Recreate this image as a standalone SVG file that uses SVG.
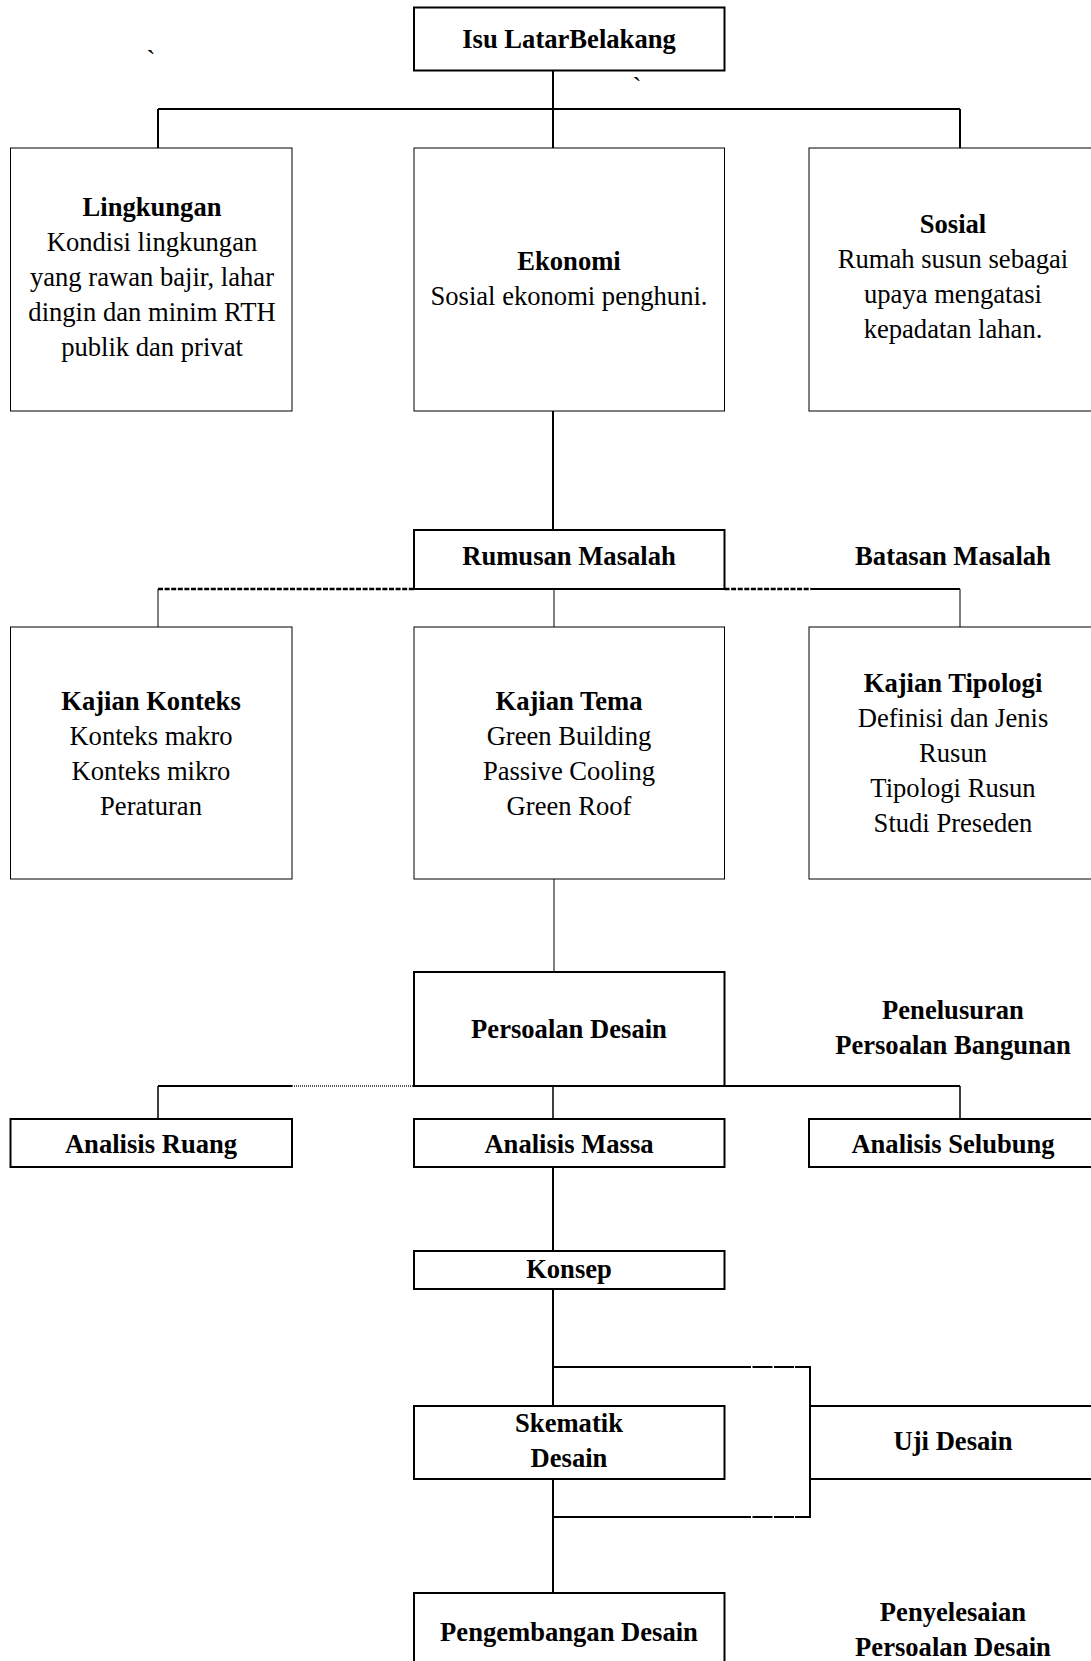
<svg xmlns="http://www.w3.org/2000/svg" width="1091" height="1661" viewBox="0 0 1091 1661">
  <style>
    .t { font-family: "Liberation Serif", "Times New Roman", serif; font-size: 26.6px; fill: #000; text-anchor: middle; }
    .b { font-weight: bold; }
    .box { fill: #fff; stroke: #000; stroke-width: 1; }
    .box2 { fill: #fff; stroke: #000; stroke-width: 2; }
    .ln { fill: none; stroke: #000; stroke-width: 2; }
    .thin { fill: none; stroke: #000; stroke-width: 1; }
    .mid { fill: none; stroke: #000; stroke-width: 1.5; }
    .dash { fill: none; stroke: #000; stroke-width: 2.5; stroke-dasharray: 5 1.6; }
    .dot { fill: none; stroke: #555; stroke-width: 2; stroke-dasharray: 1 1; }
    .gapdash { fill: none; stroke: #000; stroke-width: 2; stroke-dasharray: 20 1.5; }
  </style>
  <rect width="1091" height="1661" fill="#fff"/>

  <!-- stray grave accents -->
  <text class="t" x="151" y="69">`</text>
  <text class="t" x="637" y="96">`</text>

  <!-- connectors -->
  <g id="connectors">
    <!-- issue to three aspects -->
    <path class="ln" d="M553 70.5 V148 M158 109 H960 M158 109 V148 M960 109 V148"/>
    <!-- economy to problem statement -->
    <path class="ln" d="M553 411 V530"/>
    <!-- problem statement bus -->
    <path class="dash" d="M158 589 H414 M724.5 589 H811"/>
    <path class="ln" d="M811 589 H960"/>
    <path class="thin" d="M158 589 V627 M554 589 V627 M960 589 V627"/>
    <!-- theme study to design issue -->
    <path class="thin" d="M554 879 V972"/>
    <!-- design issue bus -->
    <path class="ln" d="M158 1086 H292 M724.5 1086 H960"/>
    <path class="dot" d="M292 1086 H414"/>
    <path class="mid" d="M158 1086 V1119 M553 1086 V1119 M960 1086 V1119"/>
    <!-- mass analysis down to development -->
    <path class="ln" d="M553 1167 V1251 M553 1289 V1406 M553 1479 V1593"/>
    <!-- test loop -->
    <path class="ln" d="M553 1367 H731 M795 1367 H810 V1517 H795 M731 1517 H553"/>
    <path class="gapdash" d="M731 1367 H795 M731 1517 H795"/>
  </g>

  <g id="isu">
    <rect class="box2" x="414" y="7.5" width="310.5" height="63"/>
    <text class="t b" x="569" y="48">Isu LatarBelakang</text>
  </g>

  <g id="lingkungan">
    <rect class="box" x="10.5" y="148" width="281.5" height="263"/>
    <text class="t b" x="152" y="216">Lingkungan</text>
    <text class="t" x="152" y="251">Kondisi lingkungan</text>
    <text class="t" x="152" y="286">yang rawan bajir, lahar</text>
    <text class="t" x="152" y="321">dingin dan minim RTH</text>
    <text class="t" x="152" y="356">publik dan privat</text>
  </g>

  <g id="ekonomi">
    <rect class="box" x="414" y="148" width="310.5" height="263"/>
    <text class="t b" x="569" y="270">Ekonomi</text>
    <text class="t" x="569" y="305">Sosial ekonomi penghuni.</text>
  </g>

  <g id="sosial">
    <rect class="box" x="809" y="148" width="290" height="263"/>
    <text class="t b" x="953" y="233">Sosial</text>
    <text class="t" x="953" y="268">Rumah susun sebagai</text>
    <text class="t" x="953" y="303">upaya mengatasi</text>
    <text class="t" x="953" y="338">kepadatan lahan.</text>
  </g>

  <g id="rumusan">
    <rect class="box2" x="414" y="530" width="310.5" height="59"/>
    <text class="t b" x="569" y="565">Rumusan Masalah</text>
  </g>

  <g id="batasan">
    <text class="t b" x="953" y="565">Batasan Masalah</text>
  </g>

  <g id="konteks">
    <rect class="box" x="10.5" y="627" width="281.5" height="252"/>
    <text class="t b" x="151" y="709.5">Kajian Konteks</text>
    <text class="t" x="151" y="744.5">Konteks makro</text>
    <text class="t" x="151" y="779.5">Konteks mikro</text>
    <text class="t" x="151" y="814.5">Peraturan</text>
  </g>

  <g id="tema">
    <rect class="box" x="414" y="627" width="310.5" height="252"/>
    <text class="t b" x="569" y="709.5">Kajian Tema</text>
    <text class="t" x="569" y="744.5">Green Building</text>
    <text class="t" x="569" y="779.5">Passive Cooling</text>
    <text class="t" x="569" y="814.5">Green Roof</text>
  </g>

  <g id="tipologi">
    <rect class="box" x="809" y="627" width="290" height="252"/>
    <text class="t b" x="953" y="691.5">Kajian Tipologi</text>
    <text class="t" x="953" y="726.5">Definisi dan Jenis</text>
    <text class="t" x="953" y="761.5">Rusun</text>
    <text class="t" x="953" y="796.5">Tipologi Rusun</text>
    <text class="t" x="953" y="831.5">Studi Preseden</text>
  </g>

  <g id="persoalan">
    <rect class="box2" x="414" y="972" width="310.5" height="114"/>
    <text class="t b" x="569" y="1038">Persoalan Desain</text>
  </g>

  <g id="penelusuran">
    <text class="t b" x="953" y="1019">Penelusuran</text>
    <text class="t b" x="953" y="1054">Persoalan Bangunan</text>
  </g>

  <g id="analisis-ruang">
    <rect class="box2" x="10.5" y="1119" width="281.5" height="48"/>
    <text class="t b" x="151" y="1153">Analisis Ruang</text>
  </g>

  <g id="analisis-massa">
    <rect class="box2" x="414" y="1119" width="310.5" height="48"/>
    <text class="t b" x="569" y="1153">Analisis Massa</text>
  </g>

  <g id="analisis-selubung">
    <rect class="box2" x="809" y="1119" width="290" height="48"/>
    <text class="t b" x="953" y="1153">Analisis Selubung</text>
  </g>

  <g id="konsep">
    <rect class="box2" x="414" y="1251" width="310.5" height="38"/>
    <text class="t b" x="569" y="1278">Konsep</text>
  </g>

  <g id="skematik">
    <rect class="box2" x="414" y="1406" width="310.5" height="73"/>
    <text class="t b" x="569" y="1432">Skematik</text>
    <text class="t b" x="569" y="1467">Desain</text>
  </g>

  <g id="uji">
    <rect class="box2" x="810" y="1406" width="290" height="73"/>
    <text class="t b" x="953" y="1450">Uji Desain</text>
  </g>

  <g id="pengembangan">
    <rect class="box2" x="414" y="1593" width="310.5" height="80"/>
    <text class="t b" x="569" y="1641">Pengembangan Desain</text>
  </g>

  <g id="penyelesaian">
    <text class="t b" x="953" y="1621">Penyelesaian</text>
    <text class="t b" x="953" y="1656">Persoalan Desain</text>
  </g>
</svg>
